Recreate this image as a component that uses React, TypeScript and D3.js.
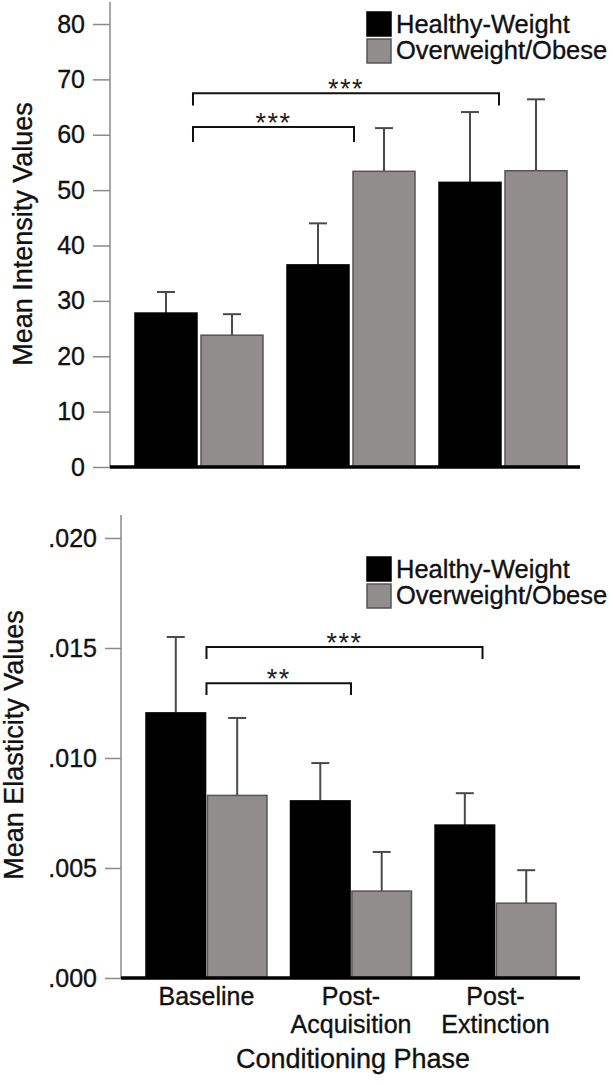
import { useRef, useEffect } from 'react'
import * as d3 from 'd3'

const phases = ['Baseline', 'Post-Acquisition', 'Post-Extinction']
const phaseLines = [['Baseline'], ['Post-', 'Acquisition'], ['Post-', 'Extinction']]
const groups = ['Healthy-Weight', 'Overweight/Obese']

// mean intensity (top panel)
const intensityHW = [27.8, 36.5, 51.4]
const intensityHWErr = [3.8, 7.5, 12.7]
const intensityOW = [23.8, 53.4, 53.5]
const intensityOWErr = [3.8, 7.8, 12.9]
const intensityTicks = [0, 10, 20, 30, 40, 50, 60, 70, 80]

// mean elasticity (bottom panel)
const elasticityHW = [0.01205, 0.00805, 0.00695]
const elasticityHWErr = [0.00345, 0.00172, 0.00145]
const elasticityOW = [0.0083, 0.00395, 0.0034]
const elasticityOWErr = [0.00352, 0.00178, 0.0015]
const elasticityTicks = [0, 0.005, 0.01, 0.015, 0.02]

// significance brackets: [from phase, to phase, bar level, leg level, label]
const intensityBrackets: [number, number, number, number, string][] = [
  [0, 2, 67.5, 65.3, '***'],
  [0, 1, 61.4, 58.7, '***'],
]
const elasticityBrackets: [number, number, number, number, string][] = [
  [0, 2, 0.01505, 0.0145, '***'],
  [0, 1, 0.0134, 0.01286, '**'],
]

const FONT = '"Liberation Sans", Arial, Helvetica, sans-serif'
const C = { black: '#000', gray: '#918d8d', grayEdge: '#555', axis: '#8a8a8a', err: '#4a4a4a', text: '#111' }

export default function App() {
  const svgRef = useRef<SVGSVGElement>(null)

  useEffect(() => {
    const svg = d3.select(svgRef.current)
    svg.selectAll('*').remove()

    // slightly heavier text, closer to the scanned Helvetica
    const txt = (sel: any, size: number) =>
      sel.attr('font-size', size).attr('font-family', FONT).attr('fill', C.text)
        .attr('stroke', C.text).attr('stroke-width', 0.35)

    const panel = (o: any) => {
      const g = svg.append('g')
      const y = d3.scaleLinear().domain(o.yDomain).range(o.yRange)
      const x = d3.scaleBand().domain(phases).range(o.xRange).paddingInner(o.padInner).paddingOuter(0)
      const xs = d3.scaleBand().domain(groups).range([0, x.bandwidth()]).paddingInner(o.subPad)

      // y axis
      const ax = g.append('g').attr('transform', `translate(${o.axisX},0)`)
        .call(d3.axisLeft(y).tickValues(o.ticks).tickSize(o.tickLen).tickSizeOuter(0).tickPadding(o.tickPad).tickFormat(o.fmt))
      ax.select('.domain').remove()
      ax.selectAll('line').attr('stroke', C.axis).attr('stroke-width', 1.5)
      txt(ax.selectAll('text'), 25)
      g.append('line').attr('x1', o.axisX).attr('x2', o.axisX).attr('y1', o.axisTop).attr('y2', y(0))
        .attr('stroke', C.axis).attr('stroke-width', 1.5)

      txt(g.append('text'), 27)
        .attr('transform', `translate(${o.labelX},${o.labelY}) rotate(-90)`)
        .attr('text-anchor', 'middle')
        .text(o.ylabel)

      // bars
      const series = [
        { key: groups[0], vals: o.hw, errs: o.hwErr, fill: C.black, edge: C.black },
        { key: groups[1], vals: o.ow, errs: o.owErr, fill: C.gray, edge: C.grayEdge },
      ]
      series.forEach(s => {
        phases.forEach((p, i) => {
          const bx = (x(p) as number) + (xs(s.key) as number)
          const bw = xs.bandwidth()
          const cx = bx + bw / 2
          const top = y(s.vals[i] + s.errs[i])
          g.append('line').attr('x1', cx).attr('x2', cx).attr('y1', y(s.vals[i])).attr('y2', top)
            .attr('stroke', C.err).attr('stroke-width', 2)
          g.append('line').attr('x1', cx - 9).attr('x2', cx + 9).attr('y1', top).attr('y2', top)
            .attr('stroke', C.err).attr('stroke-width', 2)
          g.append('rect').attr('x', bx).attr('y', y(s.vals[i]))
            .attr('width', bw).attr('height', y(0) - y(s.vals[i]))
            .attr('fill', s.fill).attr('stroke', s.edge).attr('stroke-width', 1.5)
        })
      })

      // baseline
      g.append('line').attr('x1', o.axisX).attr('x2', 580).attr('y1', y(0)).attr('y2', y(0))
        .attr('stroke', C.black).attr('stroke-width', 3.5)

      // significance brackets
      o.brackets.forEach(([a, b, lv, leg, lab]: [number, number, number, number, string]) => {
        const x1 = (x(phases[a]) as number) + x.bandwidth() / 2 + o.brOff[0]
        const x2 = (x(phases[b]) as number) + x.bandwidth() / 2 + (b === 2 ? o.brOff[2] : o.brOff[1])
        g.append('path')
          .attr('d', `M${x1},${y(leg)}V${y(lv)}H${x2}V${y(leg)}`)
          .attr('fill', 'none').attr('stroke', '#111').attr('stroke-width', 2)
        g.append('text').attr('x', (x1 + x2) / 2).attr('y', y(lv) + 5)
          .attr('text-anchor', 'middle').attr('font-size', 27).attr('letter-spacing', 1.5)
          .attr('font-family', FONT).attr('fill', '#222').text(lab)
      })

      // legend
      series.forEach((s, i) => {
        g.append('rect').attr('x', o.legX).attr('y', o.legY + i * 27).attr('width', 24).attr('height', 24)
          .attr('fill', s.fill).attr('stroke', s.edge).attr('stroke-width', 1.5)
        txt(g.append('text'), 25.5).attr('x', o.legX + 29).attr('y', o.legY + 21 + i * 26)
          .text(s.key)
      })

      return { x, y }
    }

    panel({
      yDomain: [0, 80], yRange: [467, 24], xRange: [135, 567], padInner: 0.158, subPad: 0.0606,
      axisX: 110, axisTop: 2, tickLen: 17, tickPad: 8, ticks: intensityTicks, fmt: (d: number) => String(d),
      ylabel: 'Mean Intensity Values', labelX: 32, labelY: 234,
      hw: intensityHW, hwErr: intensityHWErr, ow: intensityOW, owErr: intensityOWErr,
      brackets: intensityBrackets, brOff: [-6, 3, -4], legX: 367, legY: 12,
    })

    const bot = panel({
      yDomain: [0, 0.02], yRange: [978, 538], xRange: [146, 556], padInner: 0.163, subPad: 0.03,
      axisX: 121, axisTop: 515, tickLen: 16, tickPad: 8, ticks: elasticityTicks,
      fmt: (d: number) => d3.format('.3f')(d).replace(/^0/, ''),
      ylabel: 'Mean Elasticity Values', labelX: 23, labelY: 745,
      hw: elasticityHW, hwErr: elasticityHWErr, ow: elasticityOW, owErr: elasticityOWErr,
      brackets: elasticityBrackets, brOff: [0, 0, -13], legX: 367, legY: 557,
    })

    // category labels (bottom panel only)
    phases.forEach((p, i) => {
      const cx = (bot.x(p) as number) + bot.x.bandwidth() / 2
      phaseLines[i].forEach((ln, j) => {
        txt(svg.append('text'), 25).attr('x', cx).attr('y', 1005 + j * 28)
          .attr('text-anchor', 'middle')
          .text(ln)
      })
    })
    txt(svg.append('text'), 27).attr('x', 353).attr('y', 1068)
      .attr('text-anchor', 'middle')
      .text('Conditioning Phase')
  }, [])

  return (
    <svg ref={svgRef} width={613} height={1085}
      style={{ position: 'absolute', left: 0, top: 0, background: '#fff' }} />
  )
}
